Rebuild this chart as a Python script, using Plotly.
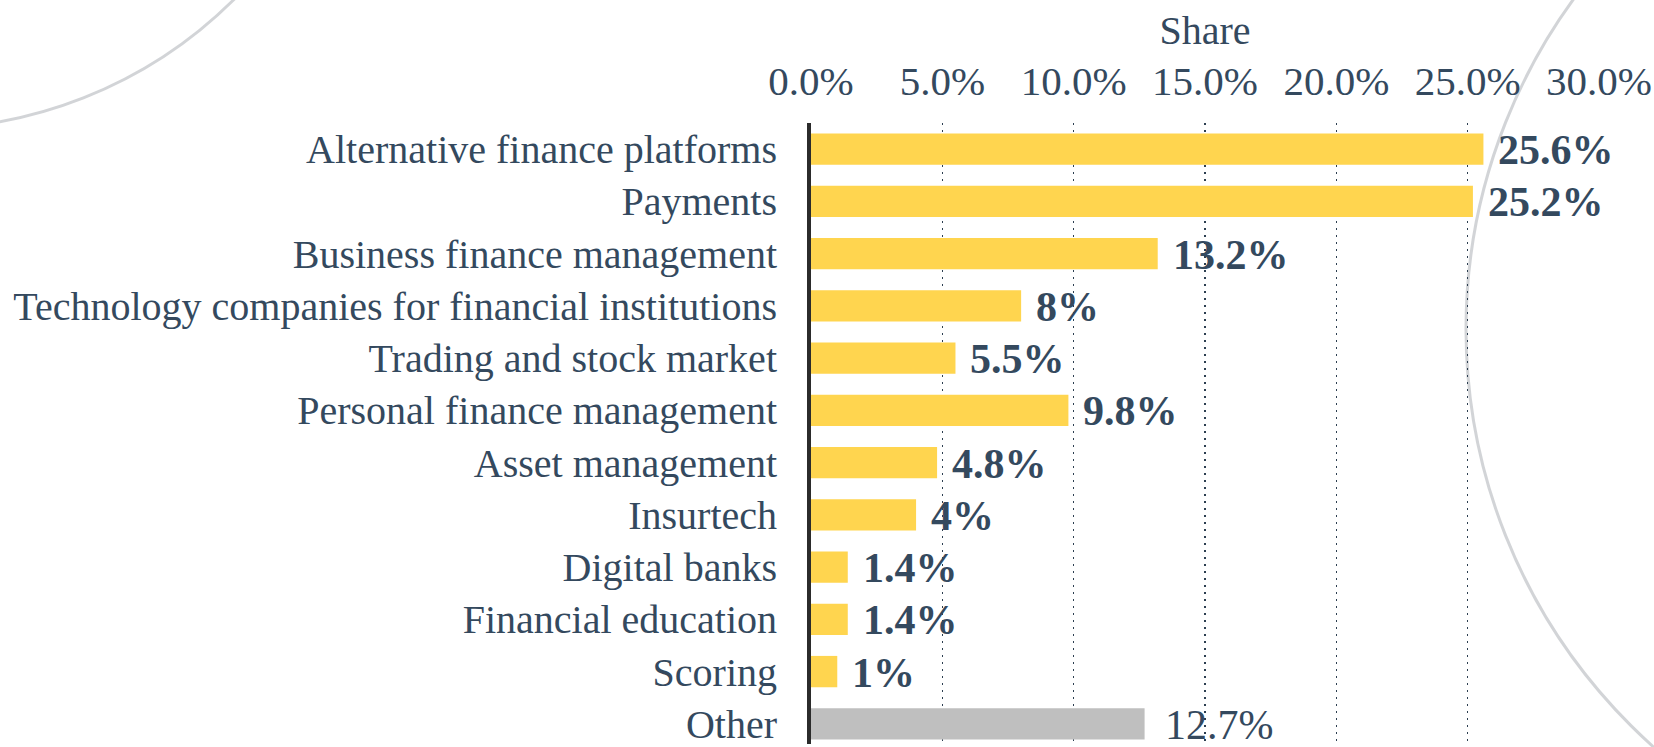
import plotly.graph_objects as go

categories = [
    "Alternative finance platforms",
    "Payments",
    "Business finance management",
    "Technology companies for financial institutions",
    "Trading and stock market",
    "Personal finance management",
    "Asset management",
    "Insurtech",
    "Digital banks",
    "Financial education",
    "Scoring",
    "Other",
]
shares = [25.6, 25.2, 13.2, 8, 5.5, 9.8, 4.8, 4, 1.4, 1.4, 1, 12.7]
value_labels = ["25.6%", "25.2%", "13.2%", "8%", "5.5%", "9.8%", "4.8%", "4%", "1.4%", "1.4%", "1%", "12.7%"]
tick_values = [0, 5, 10, 15, 20, 25, 30]

W, H = 1654, 747
ML, MR, MT, MB = 811, 55, 123, 0
PW, PH = W - ML - MR, H - MT - MB

YELLOW = "#FFD54F"
GREY = "#BFBFBF"
TEXT = "#34495E"
FONT = "Liberation Serif"

colors = [GREY if c == "Other" else YELLOW for c in categories]

fig = go.Figure()
fig.add_trace(go.Bar(
    x=shares, y=categories, orientation="h",
    marker=dict(color=colors, line=dict(width=0)),
    width=0.6, hoverinfo="skip",
))

for c, v, t in zip(categories, shares, value_labels):
    other = c == "Other"
    fig.add_annotation(
        x=v, y=c, text=t, showarrow=False, xanchor="left", yanchor="middle",
        xshift=18 if other else 13, yshift=-1,
        font=dict(family=FONT, size=42, color=TEXT,
                  weight="normal" if other else "bold"),
    )

def px2paper(X, Y):
    return (X - ML) / PW, (H - MB - Y) / PH

# decorative faint arcs
for (cx, cy, r) in [(-80, -315, 444), (2030, 330, 564)]:
    x0, y1 = px2paper(cx - r, cy - r)
    x1, y0 = px2paper(cx + r, cy + r)
    fig.add_shape(type="circle", xref="paper", yref="paper",
                  x0=x0, x1=x1, y0=y0, y1=y1,
                  line=dict(color="rgba(195,198,202,0.75)", width=3),
                  fillcolor="rgba(0,0,0,0)", layer="below")

fig.update_layout(
    width=W, height=H,
    margin=dict(l=ML, r=MR, t=MT, b=MB, pad=0),
    paper_bgcolor="white", plot_bgcolor="rgba(0,0,0,0)",
    showlegend=False,
    bargap=0.4,
    font=dict(family=FONT, color=TEXT),
    xaxis=dict(
        side="top", range=[0, 30], tickvals=tick_values,
        ticktext=[f"{v:.1f}%" for v in tick_values],
        tickfont=dict(family=FONT, size=41, color=TEXT),
        showgrid=True, gridcolor="#2C3E50", gridwidth=1.5, griddash="2px,5px",
        zeroline=False, showline=False, ticks="", ticklabelstandoff=19,
        title=dict(text="Share", font=dict(family=FONT, size=40, color=TEXT), standoff=0),
        fixedrange=True,
    ),
    yaxis=dict(
        categoryorder="array", categoryarray=categories,
        range=[11.386, -0.5],
        tickfont=dict(family=FONT, size=40, color=TEXT),
        showline=True, linecolor="#2B2B2B", linewidth=4,
        showgrid=False, zeroline=False, ticks="", ticklabelstandoff=22,
        fixedrange=True,
    ),
)

fig.write_html(
    "out.html",
    config={"displayModeBar": False, "staticPlot": True},
    post_script="document.body.style.margin='0';document.body.style.padding='0';",
)
